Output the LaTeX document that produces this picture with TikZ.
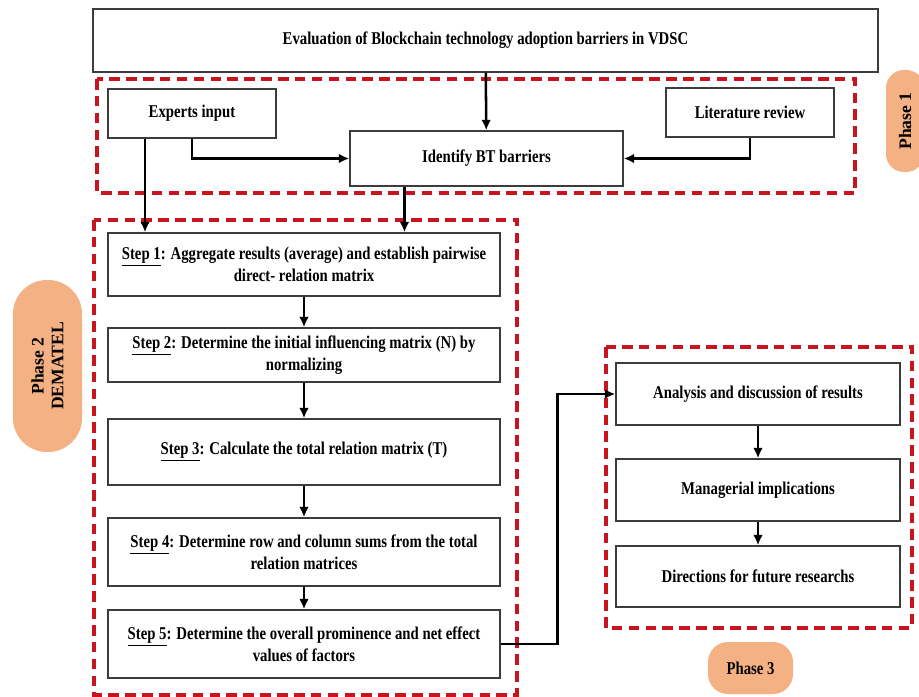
\documentclass[tikz,border=0pt]{standalone}
\usepackage{fontspec}
\setmainfont{Liberation Serif}[FakeStretch=0.82]
\newfontfamily\pillfont{Liberation Serif}
\usepackage{tikz}
\usetikzlibrary{
  arrows.meta,
  positioning
}
\definecolor{phasered}{RGB}{200,20,30}
\definecolor{phaseorange}{RGB}{244,177,131}
\definecolor{boxgray}{RGB}{60,60,60}
\tikzset{
  flowbox/.style={
    draw=boxgray,
    line width=1pt,
    fill=white,
    align=center,
    inner sep=2pt,
    font=\fontsize{12.8}{15.5}\selectfont\bfseries
  },
  stepbox/.style={flowbox,minimum width=9.8cm},
  resultbox/.style={flowbox,minimum width=7.1cm},
  phaseframe/.style={draw=phasered,line width=2.4pt,dash pattern=on 7.5pt off 4.5pt},
  phasepill/.style={fill=phaseorange,align=center,inner sep=0pt,
    font=\pillfont\fontsize{12.5}{14}\selectfont\bfseries},
  flowarrow/.style={-{Latex[length=2.6mm,width=2.4mm]},line width=1.8pt},
}

\begin{document}
\begin{tikzpicture}[x=0.025cm,y=-0.025cm]
  \useasboundingbox (0,0) rectangle (919,696);
  \clip (0,0) rectangle (919,696);

  % phase frames
  \draw[phaseframe] (97,79) rectangle (855,193);
  \draw[phaseframe] (94,220) rectangle (517,695);
  \draw[phaseframe] (606,347) rectangle (912,628);

  % phase 1
  \node[flowbox,minimum width=19.625cm,minimum height=1.575cm] (title) at (485.5,40.5)
    {Evaluation of Blockchain technology adoption barriers in VDSC};
  \node[flowbox,minimum width=4.2cm,minimum height=1.225cm] (experts) at (192,113.5) {Experts input};
  \node[flowbox,minimum width=4.2cm,minimum height=1.225cm] (litreview) at (750,112.5) {Literature review};
  \node[flowbox,minimum width=6.825cm,minimum height=1.375cm] (identify) at (486.5,158.5) {Identify BT barriers};

  % phase 2 (DEMATEL steps)
  \node[stepbox,minimum height=1.575cm] (step1) at (304,264.5)
    {\underline{Step 1}: Aggregate results (average) and establish pairwise\\direct- relation matrix};
  \node[stepbox,minimum height=1.35cm] (step2) at (304,355)
    {\underline{Step 2}: Determine the initial influencing matrix (N) by\\normalizing};
  \node[stepbox,minimum height=1.65cm] (step3) at (304,452)
    {\underline{Step 3}: Calculate the total relation matrix (T)};
  \node[stepbox,minimum height=1.7cm] (step4) at (304,552)
    {\underline{Step 4}: Determine row and column sums from the total\\relation matrices};
  \node[stepbox,minimum height=1.7cm] (step5) at (304,644)
    {\underline{Step 5}: Determine the overall prominence and net effect\\values of factors};

  % phase 3
  \node[resultbox,minimum height=1.55cm] (analysis) at (758,394) {Analysis and discussion of results};
  \node[resultbox,minimum height=1.55cm] (implications) at (758,490) {Managerial implications};
  \node[resultbox,minimum height=1.525cm] (directions) at (758,576.5) {Directions for future researchs};

  % phase labels
  \node[phasepill,rotate=90,minimum width=2.55cm,minimum height=0.95cm,rounded corners=0.45cm]
    (phaseone) at (905,121) {Phase 1};
  \node[phasepill,rotate=90,minimum width=4.3cm,minimum height=1.725cm,rounded corners=0.85cm]
    (phasetwo) at (47.5,366) {Phase 2\\DEMATEL};
  \node[phasepill,minimum width=2.125cm,minimum height=1.3cm,rounded corners=0.5cm,
    font=\fontsize{12.8}{14}\selectfont\bfseries]
    (phasethree) at (750.5,668) {Phase 3};

  % connectors
  \coordinate (expdrop) at ([xshift=-1.175cm]experts.south);
  \coordinate (iddrop) at ([xshift=-2.05cm]identify.south);
  \draw[flowarrow] (title) -- (identify);
  \draw[flowarrow] (experts.south) |- (identify.west);
  \draw[flowarrow] (litreview.south) |- (identify.east);
  \draw[flowarrow] (expdrop) -- (expdrop |- step1.north);
  \draw[flowarrow] (iddrop) -- (iddrop |- step1.north);
  \draw[flowarrow] (step1) -- (step2);
  \draw[flowarrow] (step2) -- (step3);
  \draw[flowarrow] (step3) -- (step4);
  \draw[flowarrow] (step4) -- (step5);
  \draw[flowarrow] (step5.east) -- ++(57,0) |- (analysis.west);
  \draw[flowarrow] (analysis) -- (implications);
  \draw[flowarrow] (implications) -- (directions);
\end{tikzpicture}
\end{document}
